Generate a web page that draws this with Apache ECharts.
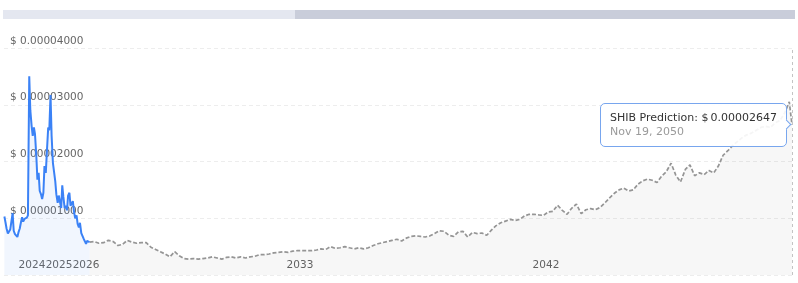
<!DOCTYPE html>
<html>
<head>
<meta charset="utf-8">
<script src="https://cdn.jsdelivr.net/npm/echarts@6/dist/echarts.min.js"></script>
<style>
  html, body { margin: 0; padding: 0; background: #fff; }
  #chart { width: 798px; height: 283px; }
</style>
</head>
<body>
<div id="chart"></div>
<script>
// ---------- DATA (prices in units of 1e-5 USD) ----------
const PRICE_UNIT = 1e-5;

const histDates = [
  '2023-02-15','2023-03-01','2023-03-15','2023-04-01','2023-04-15','2023-05-01','2023-05-15','2023-06-01','2023-06-15','2023-07-01','2023-07-15',
  '2023-08-01','2023-08-15','2023-09-01','2023-09-15','2023-10-01','2023-10-15','2023-11-01','2023-11-15','2023-12-01','2023-12-15',
  '2024-01-01','2024-01-15','2024-02-01','2024-02-15','2024-03-01','2024-03-15','2024-04-01','2024-04-15','2024-05-01','2024-05-15','2024-06-01','2024-06-15',
  '2024-07-01','2024-07-15','2024-08-01','2024-08-15','2024-09-01','2024-09-15','2024-10-01','2024-10-15','2024-11-01','2024-11-15','2024-12-01','2024-12-15',
  '2025-01-01','2025-01-15','2025-02-01','2025-02-15','2025-03-01','2025-03-15','2025-04-01','2025-04-15','2025-05-01','2025-05-15','2025-06-01','2025-06-15',
  '2025-07-01','2025-07-15','2025-08-01','2025-08-15','2025-09-01','2025-09-15','2025-10-01','2025-10-15','2025-11-01','2025-11-15','2025-12-01','2025-12-15',
  '2026-01-01','2026-01-15','2026-02-01','2026-02-15'
];
const histPrice = [
  1.03, 0.93, 0.82, 0.73, 0.75, 0.80, 0.83, 1.09, 0.78, 0.72, 0.70, 0.67, 0.75, 0.82, 0.92, 1.02, 0.94, 0.99, 0.97, 1.01, 1.05,
  3.50, 2.90, 2.62, 2.45, 2.60, 2.48, 2.10, 1.68, 1.80, 1.48, 1.42, 1.34, 1.45, 1.92, 1.80, 2.17, 2.60, 2.55, 3.17, 2.45, 1.97, 1.97, 1.65, 1.42,
  1.27, 1.40, 1.38, 1.18, 1.58, 1.38, 1.18, 1.22, 1.14, 1.40, 1.45, 1.22, 1.25, 1.30, 1.10, 1.00, 1.05, 0.90, 0.84, 0.92, 0.74, 0.76, 0.64, 0.60,
  0.55, 0.60, 0.60, 0.58
];

const predDates = [
  '2026-02-15','2026-04-15','2026-06-15','2026-08-15','2026-10-15','2026-12-15',
  '2027-02-15','2027-04-15','2027-06-15','2027-08-15','2027-10-15','2027-12-15',
  '2028-02-15','2028-04-15','2028-06-15','2028-08-15','2028-10-15','2028-12-15',
  '2029-02-15','2029-04-15','2029-06-15','2029-08-15','2029-10-15','2029-12-15',
  '2030-02-15','2030-04-15','2030-06-15','2030-08-15','2030-10-15','2030-12-15',
  '2031-02-15','2031-04-15','2031-06-15','2031-08-15','2031-10-15','2031-12-15',
  '2032-02-15','2032-04-15','2032-06-15','2032-08-15','2032-10-15','2032-12-15',
  '2033-02-15','2033-04-15','2033-06-15','2033-08-15','2033-10-15','2033-12-15',
  '2034-02-15','2034-04-15','2034-06-15','2034-08-15','2034-10-15','2034-12-15',
  '2035-02-15','2035-04-15','2035-06-15','2035-08-15','2035-10-15','2035-12-15',
  '2036-02-15','2036-04-15','2036-06-15','2036-08-15','2036-10-15','2036-12-15',
  '2037-02-15','2037-04-15','2037-06-15','2037-08-15','2037-10-15','2037-12-15',
  '2038-02-15','2038-04-15','2038-06-15','2038-08-15','2038-10-15','2038-12-15',
  '2039-02-15','2039-04-15','2039-06-15','2039-08-15','2039-10-15','2039-12-15',
  '2040-02-15','2040-04-15','2040-06-15','2040-08-15','2040-10-15','2040-12-15',
  '2041-02-15','2041-04-15','2041-06-15','2041-08-15','2041-10-15','2041-12-15',
  '2042-02-15','2042-04-15','2042-06-15','2042-08-15','2042-10-15','2042-12-15',
  '2043-02-15','2043-04-15','2043-06-15','2043-08-15','2043-10-15','2043-12-15',
  '2044-02-15','2044-04-15','2044-06-15','2044-08-15','2044-10-15','2044-12-15',
  '2045-02-15','2045-04-15','2045-06-15','2045-08-15','2045-10-15','2045-12-15',
  '2046-02-15','2046-04-15','2046-06-15','2046-08-15','2046-10-15','2046-12-15',
  '2047-02-15','2047-04-15','2047-06-15','2047-08-15','2047-10-15','2047-12-15',
  '2048-02-15','2048-04-15','2048-06-15','2048-08-15','2048-10-15','2048-12-15',
  '2049-02-15','2049-04-15','2049-06-15','2049-08-15','2049-10-15','2049-12-15',
  '2050-02-15','2050-04-15','2050-06-15','2050-08-15','2050-10-15','2050-11-19'
];
const predPrice = [
  0.58, 0.59, 0.56, 0.57, 0.61, 0.59,
  0.52, 0.54, 0.61, 0.58, 0.56, 0.57,
  0.57, 0.49, 0.45, 0.41, 0.37, 0.32,
  0.41, 0.34, 0.29, 0.28, 0.29, 0.28,
  0.29, 0.30, 0.32, 0.30, 0.28, 0.31,
  0.32, 0.30, 0.32, 0.30, 0.32, 0.33,
  0.36, 0.36, 0.37, 0.39, 0.40, 0.41,
  0.40, 0.42, 0.43, 0.43, 0.43, 0.43,
  0.44, 0.46, 0.45, 0.50, 0.47, 0.48,
  0.50, 0.48, 0.46, 0.48, 0.46, 0.48,
  0.52, 0.55, 0.57, 0.59, 0.61, 0.63,
  0.60, 0.65, 0.68, 0.69, 0.68, 0.67,
  0.69, 0.73, 0.78, 0.77, 0.70, 0.68,
  0.76, 0.77, 0.67, 0.75, 0.73, 0.74,
  0.70, 0.79, 0.87, 0.92, 0.95, 0.98,
  0.96, 0.98, 1.04, 1.07, 1.07, 1.06,
  1.05, 1.11, 1.12, 1.23, 1.14, 1.07,
  1.18, 1.25, 1.08, 1.15, 1.17, 1.15,
  1.19, 1.27, 1.36, 1.44, 1.50, 1.53,
  1.48, 1.50, 1.60, 1.66, 1.69, 1.67,
  1.63, 1.74, 1.82, 1.97, 1.76, 1.64,
  1.86, 1.94, 1.75, 1.80, 1.77, 1.84,
  1.80, 1.92, 2.11, 2.19, 2.28, 2.35,
  2.42, 2.47, 2.50, 2.55, 2.60, 2.62,
  2.60, 2.68, 2.72, 2.85, 3.05, 2.647
];

// x-axis tick labels and where they sit on the date scale
const yearLabels = ['2024', '2025', '2026', '2033', '2042'];
const yearLabelDates = ['2024-02-05', '2025-01-18', '2026-01-01', '2033-07-17', '2042-03-19'];
const axisStart = '2023-02-10';
const axisEnd = '2050-11-19';

// y-axis ticks
const yMin = 0, yMax = 4 * PRICE_UNIT, yStep = 1 * PRICE_UNIT;

const monthNames = ['Jan','Feb','Mar','Apr','May','Jun','Jul','Aug','Sep','Oct','Nov','Dec'];

// ---------- BUILD ----------
function toPrice(v) { return +(v * PRICE_UNIT).toPrecision(6); }
function ts(d) { const p = d.split('-').map(Number); return Date.UTC(p[0], p[1] - 1, p[2]); }

const histData = histDates.map((d, i) => [ts(d), toPrice(histPrice[i])]);
const predData = predDates.map((d, i) => [ts(d), toPrice(predPrice[i])]);
const labelTs = yearLabelDates.map(ts);

const FONT = 'DejaVu Sans';
const chart = echarts.init(document.getElementById('chart'), null, { renderer: 'canvas' });

chart.setOption({
  animation: false,
  backgroundColor: '#ffffff',
  grid: { left: 4, right: 6, top: 48, bottom: 8, containLabel: false, outerBoundsMode: 'none' },
  graphic: [
    { type: 'rect', shape: { x: 3, y: 10, width: 292, height: 9 }, style: { fill: '#e4e7f0' }, silent: true },
    { type: 'rect', shape: { x: 295, y: 10, width: 500, height: 9 }, style: { fill: '#c9cdda' }, silent: true }
  ],
  xAxis: {
    type: 'value',
    min: ts(axisStart),
    max: ts(axisEnd),
    axisLine: { show: false },
    axisTick: { show: false },
    splitLine: { show: false },
    axisLabel: {
      inside: true,
      margin: 3,
      hideOverlap: false,
      customValues: labelTs,
      fontFamily: FONT,
      fontSize: 10.5,
      lineHeight: 13,
      color: '#666',
      formatter: function (v) {
        const i = labelTs.indexOf(v);
        return i >= 0 ? yearLabels[i] : String(new Date(v).getUTCFullYear());
      }
    }
  },
  yAxis: {
    type: 'value',
    min: yMin,
    max: yMax,
    interval: yStep,
    axisLine: { show: false },
    axisTick: { show: false },
    splitLine: { show: true, lineStyle: { color: '#ededed', type: [4, 3], width: 1 } },
    axisLabel: {
      inside: true,
      margin: 6,
      verticalAlign: 'bottom',
      fontFamily: FONT,
      fontSize: 10.5,
      lineHeight: 14,
      color: '#666',
      showMinLabel: false,
      formatter: function (v) { return v <= 0 ? '' : '$ ' + v.toFixed(8); }
    }
  },
  tooltip: {
    trigger: 'axis',
    showDelay: 0,
    transitionDuration: 0,
    backgroundColor: 'rgba(255,255,255,0.9)',
    borderColor: '#78a6ee',
    borderWidth: 1,
    borderRadius: 5,
    padding: [7, 9],
    extraCssText: 'box-shadow:none;',
    textStyle: { fontFamily: FONT, fontSize: 11, color: '#333' },
    axisPointer: {
      type: 'line',
      animation: false,
      label: { show: false },
      lineStyle: { color: '#c4c4c4', type: [3, 3], width: 1 }
    },
    position: function (pt, params, dom, rect, size) {
      return [pt[0] - size.contentSize[0] - 5, pt[1] - size.contentSize[1] / 2];
    },
    formatter: function (params) {
      const list = Array.isArray(params) ? params : [params];
      const p = list.find(q => q.seriesName === 'SHIB Prediction') || list[0];
      const d = new Date(p.value[0]);
      const dateTxt = monthNames[d.getUTCMonth()] + ' ' + d.getUTCDate() + ', ' + d.getUTCFullYear();
      return '<div style="line-height:14px;white-space:nowrap;color:#333">' + p.seriesName + ': $\u2009' + p.value[1].toFixed(8) + '</div>' +
        '<div style="line-height:14px;white-space:nowrap;color:#9a9a9a">' + dateTxt + '</div>' +
        '<div style="position:absolute;right:-4px;top:50%;width:6px;height:6px;margin-top:-4px;background:#fff;' +
        'border-top:1px solid #78a6ee;border-right:1px solid #78a6ee;transform:rotate(45deg);"></div>';
    }
  },
  series: [
    {
      name: 'SHIB Price',
      type: 'line',
      data: histData,
      symbol: 'none',
      showSymbol: false,
      z: 3,
      lineStyle: { color: '#3b82f6', width: 2 },
      itemStyle: { color: '#3b82f6' },
      areaStyle: { color: 'rgba(59,130,246,0.10)' }
    },
    {
      name: 'SHIB Prediction',
      type: 'line',
      data: predData,
      symbol: 'none',
      showSymbol: false,
      z: 2,
      lineStyle: { color: '#888888', width: 1.7, type: [4, 2] },
      itemStyle: { color: '#888888' },
      areaStyle: { color: 'rgba(0,0,0,0.045)' }
    }
  ]
});

chart.dispatchAction({ type: 'showTip', seriesIndex: 1, dataIndex: predData.length - 1 });
</script>
</body>
</html>
